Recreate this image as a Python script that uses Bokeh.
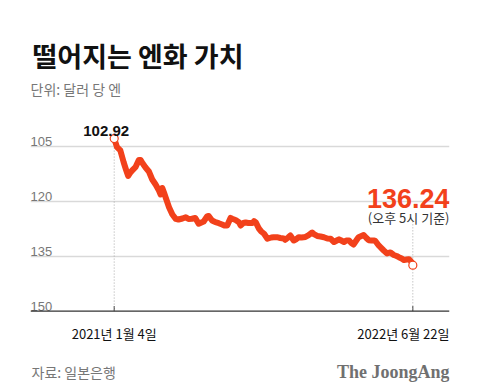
import pandas as pd
from bokeh.plotting import figure
from bokeh.models import Range1d, FixedTicker, Label, Grid, LinearAxis, Span
from bokeh.core.properties import value
from bokeh.embed import file_html
from bokeh.resources import INLINE

# ---- data ----
dates = [
    "2021-01-04", "2021-01-09", "2021-01-15", "2021-01-21", "2021-01-25", "2021-01-29",
    "2021-02-02", "2021-02-05", "2021-02-11", "2021-02-17", "2021-02-20", "2021-02-24",
    "2021-03-01", "2021-03-07", "2021-03-13", "2021-03-19", "2021-03-25", "2021-03-28",
    "2021-03-31", "2021-04-03", "2021-04-06", "2021-04-12", "2021-04-18", "2021-04-24",
    "2021-04-29", "2021-05-06", "2021-05-12", "2021-05-17", "2021-05-23", "2021-05-29",
    "2021-06-04", "2021-06-09", "2021-06-13", "2021-06-19", "2021-06-22", "2021-06-28",
    "2021-07-04", "2021-07-10", "2021-07-16", "2021-07-20", "2021-07-25", "2021-07-31",
    "2021-08-03", "2021-08-09", "2021-08-15", "2021-08-18", "2021-08-23", "2021-08-27",
    "2021-09-01", "2021-09-08", "2021-09-11", "2021-09-14", "2021-09-20", "2021-09-24",
    "2021-09-29", "2021-10-05", "2021-10-12", "2021-10-16", "2021-10-22", "2021-10-28",
    "2021-11-03", "2021-11-06", "2021-11-11", "2021-11-15", "2021-11-21", "2021-11-26",
    "2021-11-30", "2021-12-05", "2021-12-12", "2021-12-17", "2021-12-24", "2021-12-28",
    "2022-01-02", "2022-01-08", "2022-01-14", "2022-01-20", "2022-01-26", "2022-02-01",
    "2022-02-06", "2022-02-10", "2022-02-14", "2022-02-19", "2022-02-23", "2022-02-28",
    "2022-03-04", "2022-03-08", "2022-03-15", "2022-03-17", "2022-03-22", "2022-03-26",
    "2022-03-31", "2022-04-04", "2022-04-09", "2022-04-13", "2022-04-16", "2022-04-22",
    "2022-04-25", "2022-05-01", "2022-05-07", "2022-05-13", "2022-05-19", "2022-05-24",
    "2022-05-28", "2022-06-02", "2022-06-06", "2022-06-11", "2022-06-15", "2022-06-19",
    "2022-06-22",
]
yen = [
    102.92, 105.27, 106.17, 109.45, 111.35, 113.13,
    112.17, 111.63, 110.73, 108.76, 108.76, 109.72,
    110.81, 111.90, 114.08, 115.45, 117.08, 118.17,
    116.40, 117.63, 118.99, 121.64, 123.63, 124.80,
    124.99, 124.72, 124.36, 124.85, 124.80, 124.58,
    126.16, 125.81, 125.54, 124.17, 124.04, 125.26,
    125.73, 126.00, 126.35, 126.63, 126.63, 124.58,
    124.80, 125.13, 125.73, 126.63, 125.95, 125.81,
    125.95, 125.95, 125.45, 125.73, 127.53, 128.26,
    128.89, 130.25, 129.90, 129.82, 129.82, 130.04,
    130.17, 130.53, 129.90, 129.35, 130.72, 130.31,
    129.82, 129.90, 129.76, 129.35, 128.54, 129.08,
    129.49, 129.63, 129.82, 130.17, 130.25, 131.13,
    130.72, 130.39, 130.72, 131.13, 130.72, 130.72,
    131.40, 131.81, 130.25, 129.82, 129.49, 129.22,
    130.04, 130.64, 130.72, 130.72, 130.85, 132.08,
    132.54, 133.45, 134.26, 133.99, 134.67, 134.95,
    135.27, 135.63, 136.06, 135.90, 135.82, 136.45,
    137.45,
]
y_ticks = [105, 120, 135, 150]
x_tick_dates = ["2021-01-04", "2022-06-22"]
x_tick_labels = ["2021년 1월 4일", "2022년 6월 22일"]
first_label = "102.92"
last_label = "136.24"
last_note = "(오후 5시 기준)"
title = "떨어지는 엔화 가치"
subtitle = "단위: 달러 당 엔"
source_text = "자료: 일본은행"
brand = "The JoongAng"

# ---- styling ----
RED = "#f2411b"
KR = "Noto Sans CJK KR"
NUM = "Liberation Sans"
W, H = 476, 384
FR = 419  # frame width in px (screen x of right edge)

x = pd.to_datetime(dates)
xt = pd.to_datetime(x_tick_dates)
axis_value = y_ticks[-1]

p = figure(
    width=W, height=H, output_backend="svg", toolbar_location=None,
    x_axis_type=None, y_axis_type=None,
    x_range=Range1d(pd.Timestamp("2020-08-07 07:00"), pd.Timestamp("2022-08-26 14:00")),
    y_range=Range1d(170.0, 65.26),
    min_border_left=30, min_border_right=W - 30 - FR, min_border_top=0, min_border_bottom=0,
)
p.outline_line_color = None
p.background_fill_color = "white"
p.border_fill_color = "white"

# horizontal gridlines at tick values
yaxis = LinearAxis(ticker=FixedTicker(ticks=y_ticks[:-1]), visible=False)
p.add_layout(yaxis, "left")
p.add_layout(Grid(dimension=1, ticker=yaxis.ticker, grid_line_color="#d9d9d9", grid_line_width=1.3))

# baseline (x axis line) and inward tick marks
p.add_layout(Span(location=axis_value, dimension="width", line_color="#333333", line_width=1.2))
tick_len = 1.4  # in y units (about 5 px)
p.segment(x0=xt, y0=[axis_value] * len(xt), x1=xt, y1=[axis_value - tick_len] * len(xt),
          line_color="#333333", line_width=1)

# y tick labels sitting above gridlines
p.text(x=[p.x_range.start] * len(y_ticks), y=y_ticks, text=[str(t) for t in y_ticks],
       text_font=value(NUM), text_font_size="13px", text_color="#777777",
       text_baseline="bottom", text_align="left")

# dotted guides
p.segment(x0=[x[0], x[-1]], y0=[yen[0], 125.5], x1=[x[0], x[-1]], y1=[axis_value, axis_value],
          line_color="#aaaaaa", line_width=1, line_dash="1 2")

# main line
p.line(x, yen, line_color=RED, line_width=6, line_join="round", line_cap="round")

# end points
p.scatter([x[0], x[-1]], [yen[0], yen[-1]], size=8, fill_color="white",
          line_color=RED, line_width=1.2)

# value labels
p.add_layout(Label(x=x[0], y=yen[0], text=first_label, text_font=NUM, text_font_style="bold",
                   text_font_size="15px", text_color="#111111", text_align="center",
                   text_baseline="alphabetic", x_offset=-8, y_offset=8))
p.add_layout(Label(x=FR, y=185.7, x_units="screen", y_units="screen", text=last_label,
                   text_font=NUM, text_font_style="bold", text_font_size="27px",
                   text_color=RED, text_align="right", text_baseline="alphabetic"))
p.add_layout(Label(x=FR, y=167, x_units="screen", y_units="screen", text=last_note,
                   text_font=KR, text_font_size="13px", text_color="#333333",
                   text_align="right", text_baseline="alphabetic"))

# title & subtitle
p.add_layout(Label(x=2, y=329, x_units="screen", y_units="screen", text=title,
                   text_font=KR, text_font_style="bold", text_font_size="27px",
                   text_color="#111111", text_align="left", text_baseline="alphabetic"))
p.add_layout(Label(x=0, y=295.7, x_units="screen", y_units="screen", text=subtitle,
                   text_font=KR, text_font_size="14px", text_color="#777777",
                   text_align="left", text_baseline="alphabetic"))

# date tick labels
p.add_layout(Label(x=xt[0], y=51.5, x_units="data", y_units="screen", text=x_tick_labels[0],
                   text_font=KR, text_font_size="13px", text_color="#111111",
                   text_align="center", text_baseline="alphabetic"))
p.add_layout(Label(x=FR, y=51.5, x_units="screen", y_units="screen", text=x_tick_labels[1],
                   text_font=KR, text_font_size="13px", text_color="#111111",
                   text_align="right", text_baseline="alphabetic"))

# footer
p.add_layout(Label(x=1, y=13, x_units="screen", y_units="screen", text=source_text,
                   text_font=KR, text_font_size="14px", text_color="#777777",
                   text_align="left", text_baseline="alphabetic"))
p.add_layout(Label(x=FR, y=12.5, x_units="screen", y_units="screen", text=brand,
                   text_font="Liberation Serif", text_font_style="bold", text_font_size="18px",
                   text_color="#707070", text_align="right", text_baseline="alphabetic"))

open("out.html", "w").write(file_html(p, INLINE))
